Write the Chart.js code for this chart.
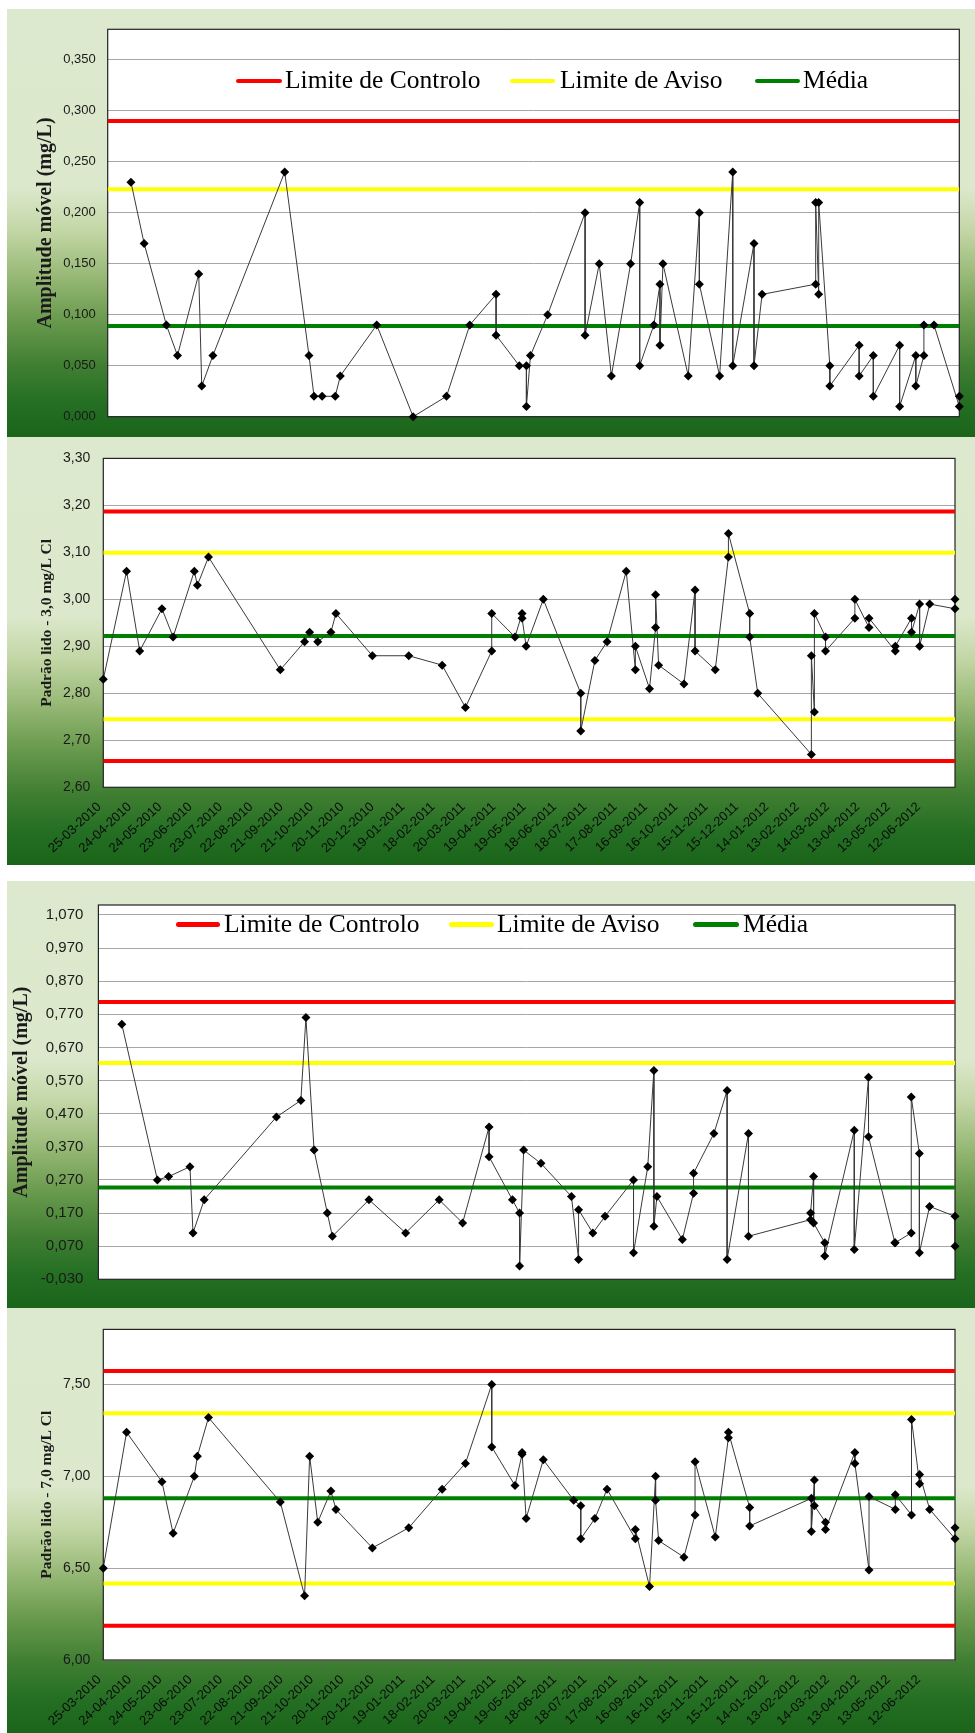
<!DOCTYPE html>
<html>
<head>
<meta charset="utf-8">
<script src="https://cdn.jsdelivr.net/npm/chart.js@4.4.1/dist/chart.umd.min.js"></script>
<style>
  html, body { margin: 0; padding: 0; background: #fff; }
  body { width: 975px; height: 1733px; position: relative; overflow: hidden; }
  .panel {
    position: absolute; left: 7px; width: 968px;
    background: linear-gradient(180deg, #dde9ce 0%, #dbe8cb 42%, #c2d6a5 52%, #99ba78 62%, #6c9c50 72%, #417f33 83%, #246f23 92%, #1b651b 100%);
  }
  canvas { position: absolute; left: 0; }
  .sw { position: absolute; height: 4.5px; border-radius: 2.5px; }
  .lg { position: absolute; font-family: 'Liberation Serif', 'Times New Roman', serif; font-size: 25.5px; line-height: 1; color: #000; white-space: nowrap; }
</style>
</head>
<body>
<div class="panel" style="top:9px;height:428px"></div>
<div class="panel" style="top:437px;height:428px"></div>
<div class="panel" style="top:881px;height:427px"></div>
<div class="panel" style="top:1308px;height:425px"></div>

<canvas id="c1" width="975" height="428" style="top:9px"></canvas>
<canvas id="c2" width="975" height="428" style="top:437px"></canvas>
<canvas id="c3" width="975" height="427" style="top:881px"></canvas>
<canvas id="c4" width="975" height="425" style="top:1308px"></canvas>

<!-- legends (sit inside the plot area of the two moving-range charts) -->
<div class="sw" style="left:236px;top:78.8px;width:46px;background:#ff0000"></div>
<div class="lg" style="left:285px;top:66.6px">Limite de Controlo</div>
<div class="sw" style="left:510px;top:78.8px;width:45px;background:#ffff00"></div>
<div class="lg" style="left:560px;top:66.6px">Limite de Aviso</div>
<div class="sw" style="left:755px;top:78.8px;width:45px;background:#008000"></div>
<div class="lg" style="left:803px;top:66.6px">Média</div>

<div class="sw" style="left:176px;top:922px;width:44px;background:#ff0000"></div>
<div class="lg" style="left:224px;top:910.6px">Limite de Controlo</div>
<div class="sw" style="left:449px;top:922px;width:45px;background:#ffff00"></div>
<div class="lg" style="left:497px;top:910.6px">Limite de Aviso</div>
<div class="sw" style="left:693px;top:922px;width:46px;background:#008000"></div>
<div class="lg" style="left:743px;top:910.6px">Média</div>

<script>
// x axis (date axis, labels every 30 days)
const xTickLabels = ['25-03-2010', '24-04-2010', '24-05-2010', '23-06-2010', '23-07-2010', '22-08-2010',
  '21-09-2010', '21-10-2010', '20-11-2010', '20-12-2010', '19-01-2011', '18-02-2011', '20-03-2011',
  '19-04-2011', '19-05-2011', '18-06-2011', '18-07-2011', '17-08-2011', '16-09-2011', '16-10-2011',
  '15-11-2011', '15-12-2011', '14-01-2012', '13-02-2012', '14-03-2012', '13-04-2012', '13-05-2012',
  '12-06-2012'];
const xStart = '2010-03-25';
const xEnd = '2012-07-14';

// padrão 3,0 mg/L Cl
const dates3 = ['2010-03-25', '2010-04-17', '2010-04-30', '2010-05-22', '2010-06-02', '2010-06-23', '2010-06-26',
  '2010-07-07', '2010-09-16', '2010-10-10', '2010-10-15', '2010-10-23', '2010-11-05', '2010-11-10', '2010-12-16',
  '2011-01-21', '2011-02-23', '2011-03-18', '2011-04-13', '2011-04-13', '2011-05-06', '2011-05-13', '2011-05-13',
  '2011-05-17', '2011-06-03', '2011-07-10', '2011-07-10', '2011-07-24', '2011-08-05', '2011-08-24', '2011-09-02',
  '2011-09-02', '2011-09-16', '2011-09-22', '2011-09-22', '2011-09-25', '2011-10-20', '2011-10-31', '2011-10-31',
  '2011-11-20', '2011-12-03', '2011-12-03', '2011-12-24', '2011-12-24',
  '2012-01-01', '2012-02-23', '2012-02-23', '2012-02-26', '2012-02-26', '2012-03-08', '2012-03-08', '2012-04-06',
  '2012-04-06', '2012-04-20', '2012-04-20', '2012-05-16', '2012-05-16', '2012-06-01', '2012-06-01', '2012-06-09',
  '2012-06-09', '2012-06-19', '2012-07-14', '2012-07-14'];
const padrao3 = [2.83, 3.06, 2.89, 2.98, 2.92, 3.06, 3.03, 3.09, 2.85, 2.91, 2.93, 2.91, 2.93, 2.97, 2.88,
  2.88, 2.86, 2.77, 2.89, 2.97, 2.92, 2.97, 2.96, 2.90, 3.00, 2.80, 2.72, 2.87, 2.91, 3.06, 2.85, 2.90, 2.81,
  2.94, 3.01, 2.86, 2.82, 3.02, 2.89, 2.85, 3.09, 3.14, 2.97, 2.92,
  2.80, 2.67, 2.88, 2.76, 2.97, 2.92, 2.89, 2.96, 3.00, 2.94, 2.96, 2.89, 2.90, 2.96, 2.93, 2.99, 2.90, 2.99,
  2.98, 3.00];
// amplitude móvel, from the second date on
const amp3 = [0.23, 0.17, 0.09, 0.06, 0.14, 0.03, 0.06, 0.24, 0.06, 0.02, 0.02, 0.02, 0.04, 0.09,
  0.00, 0.02, 0.09, 0.12, 0.08, 0.05, 0.05, 0.01, 0.06, 0.10, 0.20, 0.08, 0.15, 0.04, 0.15, 0.21, 0.05, 0.09,
  0.13, 0.07, 0.15, 0.04, 0.20, 0.13, 0.04, 0.24, 0.05, 0.17, 0.05,
  0.12, 0.13, 0.21, 0.12, 0.21, 0.05, 0.03, 0.07, 0.04, 0.06, 0.02, 0.07, 0.01, 0.06, 0.03, 0.06, 0.09, 0.09,
  0.01, 0.02];

// padrão 7,0 mg/L Cl
const dates7 = ['2010-03-25', '2010-04-17', '2010-05-22', '2010-06-02', '2010-06-23', '2010-06-26', '2010-07-07',
  '2010-09-16', '2010-10-10', '2010-10-15', '2010-10-23', '2010-11-05', '2010-11-10', '2010-12-16',
  '2011-01-21', '2011-02-23', '2011-03-18', '2011-04-13', '2011-04-13', '2011-05-06', '2011-05-13', '2011-05-13',
  '2011-05-17', '2011-06-03', '2011-07-03', '2011-07-10', '2011-07-10', '2011-07-24', '2011-08-05', '2011-09-02',
  '2011-09-02', '2011-09-16', '2011-09-22', '2011-09-22', '2011-09-25', '2011-10-20', '2011-10-31', '2011-10-31',
  '2011-11-20', '2011-12-03', '2011-12-03', '2011-12-24', '2011-12-24',
  '2012-02-23', '2012-02-23', '2012-02-26', '2012-02-26', '2012-03-08', '2012-03-08', '2012-04-06', '2012-04-06',
  '2012-04-20', '2012-04-20', '2012-05-16', '2012-05-16', '2012-06-01', '2012-06-01', '2012-06-09', '2012-06-09',
  '2012-06-19', '2012-07-14', '2012-07-14'];
const padrao7 = [6.50, 7.24, 6.97, 6.69, 7.00, 7.11, 7.32, 6.86, 6.35, 7.11, 6.75, 6.92, 6.82, 6.61,
  6.72, 6.93, 7.07, 7.50, 7.16, 6.95, 7.12, 7.13, 6.77, 7.09, 6.87, 6.84, 6.66, 6.77, 6.93, 6.66, 6.71, 6.40,
  7.00, 6.87, 6.65, 6.56, 6.79, 7.08, 6.67, 7.21, 7.24, 6.83, 6.73,
  6.88, 6.70, 6.98, 6.84, 6.75, 6.71, 7.13, 7.07, 6.49, 6.89, 6.82, 6.90, 6.79, 7.31, 6.96, 7.01, 6.82,
  6.66, 6.72];
const amp7 = [0.74, 0.27, 0.28, 0.31, 0.11, 0.21, 0.46, 0.51, 0.76, 0.36, 0.17, 0.10, 0.21,
  0.11, 0.21, 0.14, 0.43, 0.34, 0.21, 0.17, 0.01, 0.36, 0.32, 0.22, 0.03, 0.18, 0.11, 0.16, 0.27, 0.05, 0.31,
  0.60, 0.13, 0.22, 0.09, 0.23, 0.29, 0.41, 0.54, 0.03, 0.41, 0.10,
  0.15, 0.17, 0.28, 0.14, 0.08, 0.04, 0.42, 0.06, 0.58, 0.40, 0.08, 0.08, 0.11, 0.52, 0.35, 0.05, 0.19,
  0.16, 0.07];

// limits: controlo, aviso, média
const ctrl1 = [0.290], warn1 = [0.223], mean1 = [0.089];
const ctrl2 = [3.187, 2.656], warn2 = [3.099, 2.745], mean2 = [2.922];
const ctrl3 = [0.807], warn3 = [0.623], mean3 = [0.247];
const ctrl4 = [7.574, 6.187], warn4 = [7.343, 6.417], mean4 = [6.880];

// y ticks
const yTicks1 = [0, 0.05, 0.10, 0.15, 0.20, 0.25, 0.30, 0.35];
const yTicks2 = [2.60, 2.70, 2.80, 2.90, 3.00, 3.10, 3.20, 3.30];
const yTicks3 = [-0.03, 0.07, 0.17, 0.27, 0.37, 0.47, 0.57, 0.67, 0.77, 0.87, 0.97, 1.07];
const yTicks4 = [6.00, 6.50, 7.00, 7.50];

const DAY = 86400000;
const t0 = Date.parse(xStart);
const dayOf = s => (Date.parse(s) - t0) / DAY;
const labelDay = s => { const [d, m, y] = s.split('-'); return dayOf(`${y}-${m}-${d}`); };
const xMax = dayOf(xEnd);
const xTickDays = xTickLabels.map(labelDay);

// white plot area + frame
const plotFrame = {
  id: 'plotFrame',
  beforeDraw(chart) {
    const { ctx, chartArea: a } = chart;
    ctx.save();
    ctx.fillStyle = '#fff';
    ctx.fillRect(a.left, a.top, a.width, a.height);
    ctx.restore();
  },
  beforeDatasetsDraw(chart) {
    const { ctx, chartArea: a } = chart;
    ctx.save();
    ctx.strokeStyle = '#222';
    ctx.lineWidth = 1.2;
    ctx.strokeRect(a.left, a.top, a.width, a.height);
    ctx.restore();
  }
};

function hLine(v, color) {
  return {
    data: [{ x: 0, y: v }, { x: xMax, y: v }],
    borderColor: color, borderWidth: 4, pointRadius: 0, order: 1
  };
}

function buildChart(id, o) {
  const pts = o.dates.map((d, i) => ({ x: dayOf(d), y: o.values[i] }));
  const datasets = [{
    data: pts,
    borderColor: '#3a3a3a',
    borderWidth: 1,
    pointStyle: 'rectRot',
    pointRadius: 4.5,
    pointBackgroundColor: '#000',
    pointBorderColor: '#000',
    pointBorderWidth: 0,
    tension: 0,
    clip: false,
    order: 0
  }];
  o.ctrl.forEach(v => datasets.push(hLine(v, '#ff0000')));
  o.warn.forEach(v => datasets.push(hLine(v, '#ffff00')));
  o.mean.forEach(v => datasets.push(hLine(v, '#008000')));

  return new Chart(document.getElementById(id).getContext('2d'), {
    type: 'line',
    data: { datasets },
    plugins: [plotFrame],
    options: {
      responsive: false,
      animation: false,
      layout: { padding: o.pad },
      plugins: { legend: { display: false }, tooltip: { enabled: false } },
      scales: {
        x: {
          type: 'linear',
          min: 0,
          max: xMax,
          display: o.showX,
          grid: { display: false, drawTicks: false },
          border: { display: false },
          afterBuildTicks: s => { s.ticks = xTickDays.map(v => ({ value: v })); },
          afterFit: s => { s.height = o.xHeight || 0; },
          ticks: {
            autoSkip: false,
            minRotation: 43,
            maxRotation: 43,
            padding: 12,
            labelOffset: -4,
            color: '#0a0a0a',
            font: { family: 'Liberation Sans', size: 13 },
            callback: (v, i) => xTickLabels[i]
          }
        },
        y: {
          min: o.yTicks[0],
          max: o.yMax,
          afterBuildTicks: s => { s.ticks = o.yTicks.map(v => ({ value: v })); },
          afterFit: s => { s.width = o.yWidth; },
          grid: { color: '#a6a6a6', lineWidth: 1, drawTicks: false },
          border: { display: false },
          ticks: {
            padding: o.tickPad,
            color: '#1a1a1a',
            font: { family: 'Liberation Sans', size: o.tickSize },
            callback: v => v.toFixed(o.dec).replace('.', ',')
          },
          title: {
            display: true,
            text: o.title,
            color: '#1a1a1a',
            font: { family: 'Liberation Serif', weight: 'bold', size: o.titleSize },
            padding: { top: o.titlePad, bottom: 0 }
          }
        }
      }
    }
  });
}

buildChart('c1', {
  dates: dates3.slice(1), values: amp3,
  ctrl: ctrl1, warn: warn1, mean: mean1,
  yTicks: yTicks1, yMax: 0.38, dec: 3,
  pad: { left: 0, right: 15.7, top: 20.3, bottom: 20.3 },
  yWidth: 107.7, tickPad: 12, tickSize: 13,
  title: 'Amplitude móvel (mg/L)', titleSize: 20, titlePad: 34.3,
  showX: false
});

buildChart('c2', {
  dates: dates3, values: padrao3,
  ctrl: ctrl2, warn: warn2, mean: mean2,
  yTicks: yTicks2, yMax: 3.30, dec: 2,
  pad: { left: 0, right: 20, top: 20.3, bottom: 0 },
  yWidth: 103.3, tickPad: 13, tickSize: 14,
  title: 'Padrão lido - 3,0 mg/L Cl', titleSize: 15.5, titlePad: 37.3,
  showX: true, xHeight: 77.7
});

buildChart('c3', {
  dates: dates7.slice(1), values: amp7,
  ctrl: ctrl3, warn: warn3, mean: mean3,
  yTicks: yTicks3, yMax: 1.10, dec: 3,
  pad: { left: 0, right: 20, top: 12.3, bottom: 28.7 },
  yWidth: 98.4, tickPad: 15, tickSize: 15,
  title: 'Amplitude móvel (mg/L)', titleSize: 20, titlePad: 9.8,
  showX: false
});

buildChart('c4', {
  dates: dates7, values: padrao7,
  ctrl: ctrl4, warn: warn4, mean: mean4,
  yTicks: yTicks4, yMax: 7.80, dec: 2,
  pad: { left: 0, right: 20, top: 21.3, bottom: 0 },
  yWidth: 103.3, tickPad: 13, tickSize: 14,
  title: 'Padrão lido - 7,0 mg/L Cl', titleSize: 15.5, titlePad: 37.3,
  showX: true, xHeight: 73
});
</script>
</body>
</html>
